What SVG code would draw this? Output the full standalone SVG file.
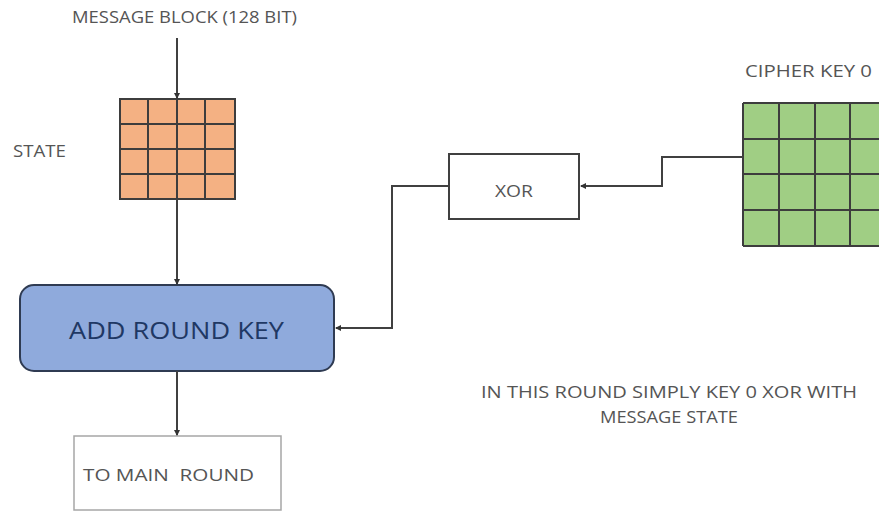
<svg xmlns="http://www.w3.org/2000/svg" width="879" height="512" viewBox="0 0 879 512">
  <defs>
    <marker id="dot" viewBox="0 0 6 6" refX="5" refY="3" markerWidth="6" markerHeight="6" markerUnits="userSpaceOnUse" orient="auto">
      <path d="M0,0 L6,3 L0,6 z" fill="#333"/>
    </marker>
    <style>
      .lbl { font-family: "Open Sans", "Liberation Sans", sans-serif; fill: #555555; font-size: 16.5px; }
      .wire { fill: none; stroke: #404040; stroke-width: 2; }
      .grid { stroke: #3d3d3d; stroke-width: 2; fill: none; }
    </style>
  </defs>
  <rect width="879" height="512" fill="#ffffff"/>

  <!-- labels -->
  <text class="lbl" x="72" y="23" textLength="225" lengthAdjust="spacingAndGlyphs">MESSAGE BLOCK (128 BIT)</text>
  <text class="lbl" x="13" y="157" textLength="53" lengthAdjust="spacingAndGlyphs">STATE</text>
  <text class="lbl" x="745" y="77" textLength="127" lengthAdjust="spacingAndGlyphs">CIPHER KEY 0</text>
  <text class="lbl" x="481" y="398" textLength="376" lengthAdjust="spacingAndGlyphs">IN THIS ROUND SIMPLY KEY 0 XOR WITH</text>
  <text class="lbl" x="600" y="423" textLength="138" lengthAdjust="spacingAndGlyphs">MESSAGE STATE</text>

  <!-- state matrix -->
  <g id="state">
    <rect x="120" y="99" width="115" height="100" fill="#F4B183"/>
    <path class="grid" d="M120,99 H235 V199 H120 Z M120,124 H235 M120,149 H235 M120,174 H235 M148,99 V199 M177,99 V199 M205,99 V199"/>
  </g>

  <!-- cipher key matrix -->
  <g id="cipher-key">
    <rect x="743" y="103" width="145" height="143" fill="#A0CE84"/>
    <path class="grid" d="M743,103 H890 M743,139 H890 M743,174 H890 M743,210 H890 M743,246 H890 M743,103 V246 M779,103 V246 M815,103 V246 M850,103 V246"/>
  </g>

  <!-- xor -->
  <g id="xor">
    <rect x="449" y="154" width="130" height="65" fill="#ffffff" stroke="#404040" stroke-width="2"/>
    <text class="lbl" x="495" y="197" textLength="38" lengthAdjust="spacingAndGlyphs">XOR</text>
  </g>

  <!-- add round key -->
  <g id="add-round-key">
    <rect x="20" y="285" width="314" height="86" rx="14" ry="14" fill="#8FAADC" stroke="#2F3B52" stroke-width="2"/>
    <text x="69" y="339" font-family="'Open Sans', 'Liberation Sans', sans-serif" font-size="24" fill="#1F3864" textLength="215" lengthAdjust="spacingAndGlyphs">ADD ROUND KEY</text>
  </g>

  <!-- to main round -->
  <g id="main-round">
    <rect x="74" y="436" width="207" height="74" fill="#ffffff" stroke="#a6a6a6" stroke-width="1.5"/>
    <text class="lbl" x="83" y="481" textLength="171" lengthAdjust="spacingAndGlyphs" xml:space="preserve">TO MAIN  ROUND</text>
  </g>

  <!-- connectors -->
  <g id="connectors">
    <path class="wire" d="M177,38 V98" marker-end="url(#dot)"/>
    <path class="wire" d="M177,199 V284" marker-end="url(#dot)"/>
    <path class="wire" d="M177,371 V435" marker-end="url(#dot)"/>
    <path class="wire" d="M743,157 H662 V186 H581" marker-end="url(#dot)"/>
    <path class="wire" d="M449,186 H392 V328 H336" marker-end="url(#dot)"/>
  </g>
</svg>
